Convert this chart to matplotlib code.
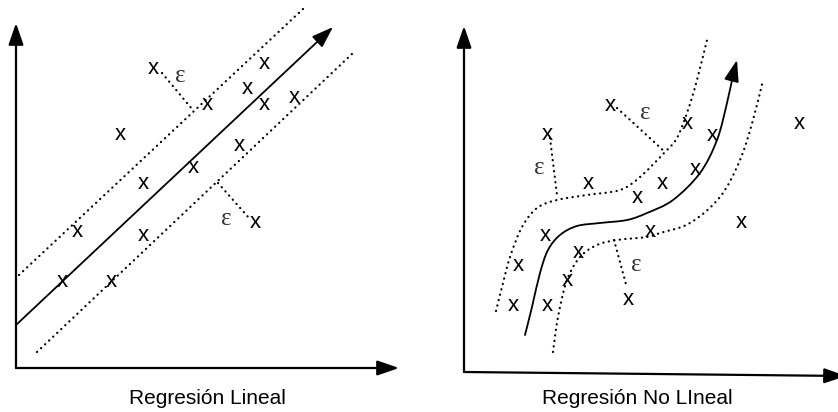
import matplotlib
matplotlib.use("Agg")
import matplotlib.pyplot as plt
from matplotlib.path import Path
from matplotlib.patches import PathPatch

# --- data (pixel coordinates, y grows downward) ---
titles = ["Regresión Lineal", "Regresión No LIneal"]
title_x = [207, 637]
title_y = [398, 398]

# linear panel
lin_marks_x = [153, 264, 207, 247, 264, 294, 120, 193, 239, 143, 255, 77, 143, 62, 111]
lin_marks_y = [68, 63, 104, 88, 104, 97, 134, 167, 145, 183, 222, 231, 235, 281, 281]
lin_fit_x = [16, 333]
lin_fit_y = [325, 27]
lin_upper_x = [19, 303]
lin_upper_y = [275, 9]
lin_lower_x = [37, 353]
lin_lower_y = [352, 53]
lin_eps_x = [180, 226]
lin_eps_y = [76, 219]
lin_links = [((162, 73), (192, 109)), ((218, 183), (249, 218))]

# non-linear panel
nl_marks_x = [610, 687, 712, 799, 547, 588, 637, 662, 695, 741, 545, 650, 578, 518, 567, 628, 513, 547]
nl_marks_y = [105, 123, 135, 123, 134, 183, 197, 183, 169, 222, 235, 231, 252, 265, 280, 299, 305, 305]
nl_curve_x = [525, 532, 540, 548, 560, 577, 600, 627, 647, 673, 700, 717, 727, 733, 737]
nl_curve_y = [335, 307, 273, 250, 235, 226, 223, 220, 213, 200, 173, 140, 103, 75, 60]
nl_upper_x = [496, 502, 510, 522, 537, 557, 587, 620, 640, 665, 677, 688, 697, 707]
nl_upper_y = [311, 287, 257, 227, 208, 200, 195, 190, 177, 152, 138, 110, 80, 40]
nl_lower_x = [553, 558, 567, 580, 597, 617, 647, 660, 690, 720, 740, 753, 763]
nl_lower_y = [352, 317, 280, 257, 245, 240, 237, 233, 223, 197, 160, 120, 80]
nl_eps_x = [645, 539, 636]
nl_eps_y = [113, 168, 265]
nl_links = [((617, 108), (665, 152)), ((550, 138), (557, 195)), ((614, 240), (627, 288))]

# axes: (origin, y tip, x tip)
axes_lines = [((16, 368), (16, 23), (399, 368)),
              ((464, 372), (464, 26), (846, 376))]

W, H = 838, 412
fig = plt.figure(figsize=(W / 100, H / 100), dpi=100)
ax = fig.add_axes([0, 0, 1, 1])
ax.set_xlim(0, W)
ax.set_ylim(H, 0)
ax.axis("off")

DOT_LS = (0, (0.1, 2.4))
DOT_LW = 1.6
dots = dict(color="black", lw=DOT_LW, linestyle=DOT_LS, dash_capstyle="round")
head = dict(arrowstyle="-|>,head_length=1.1,head_width=0.38", color="black", shrinkA=0, shrinkB=0)


def arrow(p0, p1, lw):
    ax.annotate("", xy=p1, xytext=p0, annotation_clip=False,
                arrowprops=dict(head, lw=lw, mutation_scale=12))


def smooth_path(xs, ys):
    # cubic bezier segments passing through the read points (Catmull-Rom)
    pts = list(zip(xs, ys))
    p = [pts[0]] + pts + [pts[-1]]
    verts = [pts[0]]
    codes = [Path.MOVETO]
    for i in range(1, len(p) - 2):
        p0, p1, p2, p3 = p[i - 1], p[i], p[i + 1], p[i + 2]
        c1 = (p1[0] + (p2[0] - p0[0]) / 6, p1[1] + (p2[1] - p0[1]) / 6)
        c2 = (p2[0] - (p3[0] - p1[0]) / 6, p2[1] - (p3[1] - p1[1]) / 6)
        verts += [c1, c2, p2]
        codes += [Path.CURVE4] * 3
    return Path(verts, codes)


def curve(xs, ys, ls="solid"):
    ax.add_patch(PathPatch(smooth_path(xs, ys), fill=False, edgecolor="black",
                           lw=DOT_LW if ls != "solid" else 1.3, linestyle=ls,
                           capstyle="round"))


def marks(xs, ys):
    fs = 16
    off = 0.26 * fs * 100 / 72
    for x, y in zip(xs, ys):
        ax.text(x, y + off, "x", fontsize=fs, family="Liberation Sans",
                ha="center", va="baseline", color="black")


def eps(xs, ys):
    for x, y in zip(xs, ys):
        ax.text(x, y, "ε", fontsize=18, family=["Liberation Serif", "DejaVu Serif"],
                ha="center", va="center", color="#333333")


# coordinate axes
for origin, ytip, xtip in axes_lines:
    arrow(origin, ytip, 1.6)
    arrow(origin, xtip, 1.6)

# linear regression
ax.plot(lin_upper_x, lin_upper_y, **dots)
ax.plot(lin_lower_x, lin_lower_y, **dots)
arrow((lin_fit_x[0], lin_fit_y[0]), (lin_fit_x[1], lin_fit_y[1]), 1.3)
for a, b in lin_links:
    ax.plot([a[0], b[0]], [a[1], b[1]], **dots)
marks(lin_marks_x, lin_marks_y)
eps(lin_eps_x, lin_eps_y)

# non-linear regression
curve(nl_upper_x, nl_upper_y, DOT_LS)
curve(nl_lower_x, nl_lower_y, DOT_LS)
curve(nl_curve_x[:-1], nl_curve_y[:-1])
arrow((nl_curve_x[-2], nl_curve_y[-2]), (nl_curve_x[-1], nl_curve_y[-1]), 1.3)
for a, b in nl_links:
    ax.plot([a[0], b[0]], [a[1], b[1]], **dots)
marks(nl_marks_x, nl_marks_y)
eps(nl_eps_x, nl_eps_y)

for t, x, y in zip(titles, title_x, title_y):
    ax.text(x, y, t, fontsize=15, family="Liberation Sans", ha="center", va="center")

fig.savefig("out.png", dpi=100)
